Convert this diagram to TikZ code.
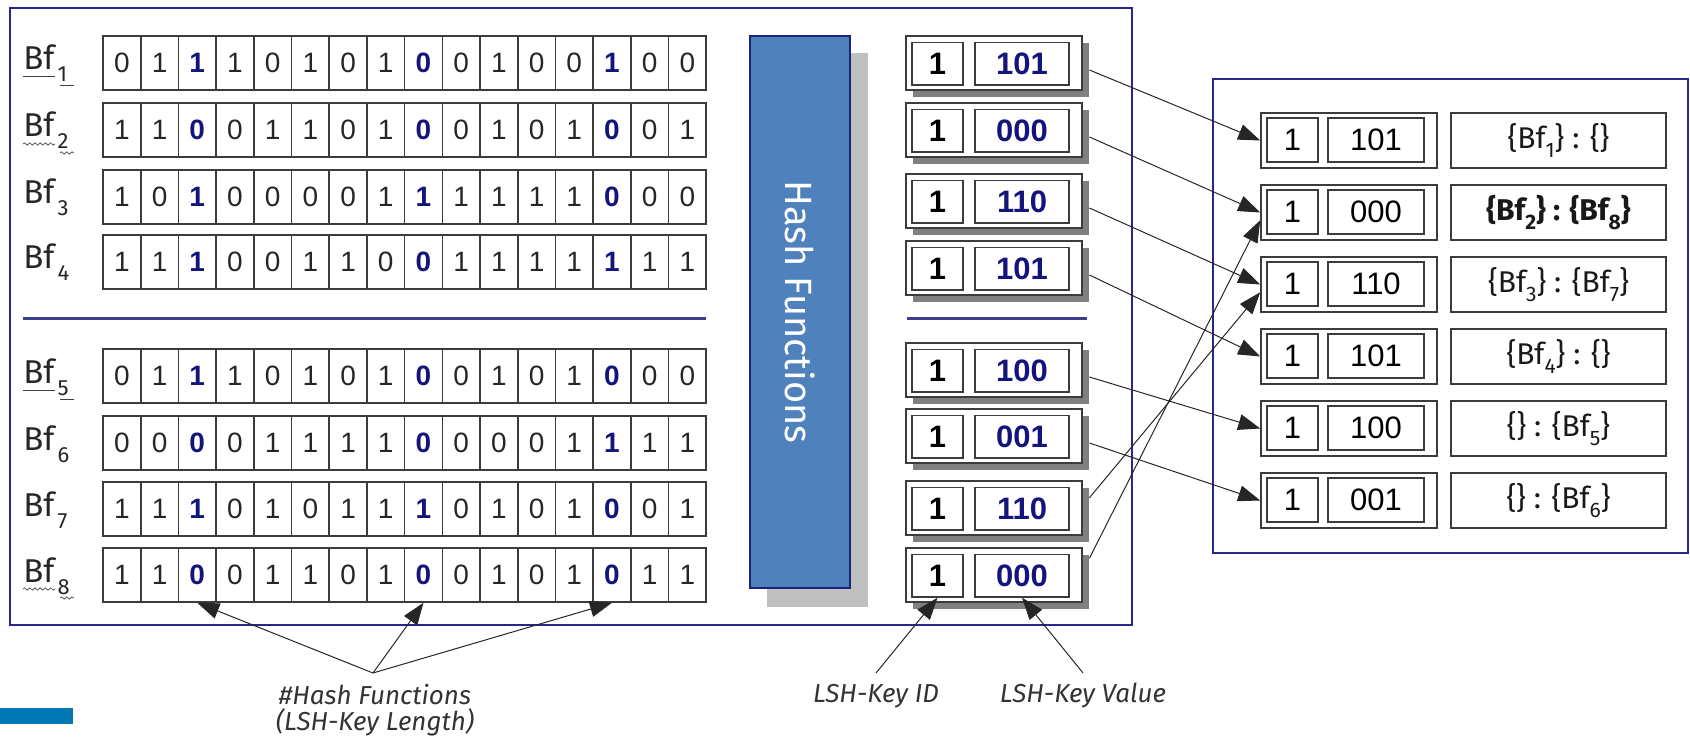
\documentclass[tikz,border=0pt]{standalone}
\usepackage{fontspec}
\setmainfont{Fira Sans}
\newfontfamily\digfont{Liberation Sans}
\usetikzlibrary{arrows.meta,fit,calc,decorations.pathmorphing}
\definecolor{navy}{RGB}{20,20,125}
\definecolor{panelc}{RGB}{40,40,140}
\definecolor{sepc}{RGB}{60,60,145}
\definecolor{hashblue}{RGB}{79,129,189}
\definecolor{hashedge}{RGB}{25,35,120}
\definecolor{lshadow}{RGB}{192,192,192}
\definecolor{dshadow}{RGB}{128,128,128}
\definecolor{gridc}{RGB}{60,60,60}
\definecolor{tealblue}{RGB}{0,119,181}
\newcommand\bsub[1]{\hspace{1.5pt}\raisebox{-6pt}{\fontsize{11pt}{11pt}\selectfont #1}}
\newcommand\ssub[1]{\raisebox{-4.8pt}{\fontsize{10.5pt}{10.5pt}\selectfont #1}}
\tikzset{
  cell/.style={draw=gridc, line width=0.8pt, minimum width=18.85pt, minimum height=27pt, inner sep=0pt,
    font=\digfont\fontsize{14pt}{15pt}\selectfont, text=black!85},
  bflab/.style={inner sep=0pt, font=\fontsize{16.5pt}{17pt}\selectfont, text=black!85},
  keybox/.style={draw=gridc, fill=white, line width=0.8pt, minimum width=88pt, minimum height=27pt, inner sep=0pt},
  keyshadow/.style={fill=dshadow, minimum width=88pt, minimum height=27pt, inner sep=0pt},
  idbox/.style={draw=gridc, line width=0.7pt, minimum width=25.5pt, minimum height=21.25pt, inner sep=0pt,
    font=\digfont\bfseries\fontsize{15.5pt}{16pt}\selectfont, text=black},
  valbox/.style={draw=gridc, line width=0.7pt, minimum width=47pt, minimum height=21.25pt, inner sep=0pt,
    font=\digfont\bfseries\fontsize{15.5pt}{16pt}\selectfont, text=navy},
  rkeybox/.style={draw=gridc, fill=white, line width=0.8pt, minimum width=88pt, minimum height=27.5pt, inner sep=0pt},
  ridbox/.style={draw=gridc, line width=0.7pt, minimum width=25.5pt, minimum height=22pt, inner sep=0pt,
    font=\digfont\fontsize{15.5pt}{16pt}\selectfont, text=black},
  rvalbox/.style={draw=gridc, line width=0.7pt, minimum width=48pt, minimum height=22pt, inner sep=0pt,
    font=\digfont\fontsize{15.5pt}{16pt}\selectfont, text=black},
  setbox/.style={draw=gridc, line width=0.8pt, minimum width=107.5pt, minimum height=27.5pt, inner sep=0pt,
    font=\fontsize{15pt}{16pt}\selectfont, text=black!90},
  panel/.style={draw=panelc, line width=0.8pt, inner sep=0pt},
  sepline/.style={draw=sepc, line width=1.5pt},
  arr/.style={-{Triangle[length=11pt,width=8pt]}, draw=black!85, line width=0.5pt},
  note/.style={font=\itshape\fontsize{13pt}{13pt}\selectfont, text=black!80, inner sep=0pt, align=center},
  uline/.style={draw=black!75, line width=0.5pt},
  wavy/.style={draw=black!65, line width=0.4pt, decorate, decoration={snake, amplitude=0.6pt, segment length=2.6pt}}
}
\begin{document}
\begin{tikzpicture}[x=0.5pt,y=-0.5pt]
\useasboundingbox (0,0) rectangle (1690,737);
% panels
\node[panel, fit={(10,8) (1132,625)}] (lpanel) {};
\node[panel, fit={(1213,79) (1688,553)}] (rpanel) {};
% separators
\draw[sepline] (23,319) -- (706,319);
\draw[sepline] (907,319) -- (1087,319);
% bloom filter rows
\foreach \r/\t/\bits in {
  1/36/{0,1,1,1,0,1,0,1,0,0,1,0,0,1,0,0},
  2/103/{1,1,0,0,1,1,0,1,0,0,1,0,1,0,0,1},
  3/170/{1,0,1,0,0,0,0,1,1,1,1,1,1,0,0,0},
  4/235/{1,1,1,0,0,1,1,0,0,1,1,1,1,1,1,1},
  5/349/{0,1,1,1,0,1,0,1,0,0,1,0,1,0,0,0},
  6/416/{0,0,0,0,1,1,1,1,0,0,0,0,1,1,1,1},
  7/482/{1,1,1,0,1,0,1,1,1,0,1,0,1,0,0,1},
  8/548/{1,1,0,0,1,1,0,1,0,0,1,0,1,0,1,1}} {
  \node[bflab, anchor=base west] (b\r) at (23,{\t+34}) {Bf\bsub{\r}};
  \foreach \b [count=\i] in \bits {
    \ifnum\i=3 \def\bitsty{\bfseries\color{navy}}\else
    \ifnum\i=9 \def\bitsty{\bfseries\color{navy}}\else
    \ifnum\i=14 \def\bitsty{\bfseries\color{navy}}\else
    \def\bitsty{}\fi\fi\fi
    \node[cell] (c\r-\i) at ({103+37.7*(\i-0.5)},{\t+27}) {\bitsty\b};
  }
}
% underlines of labels
\draw[uline] ($(b1.base west)+(0,7)$) -- ++(32,0);
\draw[uline] ($(b1.base west)+(37,16)$) -- ++(14,0);
\draw[uline] ($(b5.base west)+(0,7)$) -- ++(32,0);
\draw[uline] ($(b5.base west)+(37,16)$) -- ++(14,0);
\draw[wavy] ($(b2.base west)+(0,7)$) -- ++(32,0);
\draw[wavy] ($(b2.base west)+(37,16)$) -- ++(14,0);
\draw[wavy] ($(b8.base west)+(0,7)$) -- ++(32,0);
\draw[wavy] ($(b8.base west)+(37,16)$) -- ++(14,0);
% hash functions block
\node[fit={(767,53) (868,607)}, inner sep=0pt, fill=lshadow] (hashshadow) {};
\node[fit={(750,36) (850,588)}, inner sep=0pt, fill=hashblue, draw=hashedge, line width=0.8pt] (hash) {};
\node[rotate=-90, text=white, font=\fontsize{19pt}{20pt}\selectfont] (hashtxt) at (hash.center) {Hash Functions};
% LSH keys
\foreach \k/\t/\v in {1/36/101, 2/103/000, 3/174/110, 4/241/101, 5/343/100, 6/409/001, 7/481/110, 8/548/000} {
  \node[keyshadow] (ks\k) at (1001,{\t+34}) {};
  \node[keybox] (k\k) at (994,{\t+27}) {};
  \node[idbox] (kid\k) at (937.5,{\t+27.75}) {1};
  \node[valbox] (kv\k) at (1022,{\t+27.75}) {\v};
}
% result table
\foreach \r/\t/\v/\s in {
  1/113/101/{\{Bf\ssub{1}\} : \{\}},
  2/185/000/{\bfseries\{Bf\ssub{\bfseries 2}\} : \{Bf\ssub{\bfseries 8}\}},
  3/257/110/{\{Bf\ssub{3}\} : \{Bf\ssub{7}\}},
  4/329/101/{\{Bf\ssub{4}\} : \{\}},
  5/401/100/{\{\} : \{Bf\ssub{5}\}},
  6/473/001/{\{\} : \{Bf\ssub{6}\}}} {
  \node[rkeybox] (r\r) at (1349,{\t+27.5}) {};
  \node[ridbox] (rid\r) at (1292.5,{\t+27}) {1};
  \node[rvalbox] (rv\r) at (1376,{\t+27}) {\v};
  \node[setbox] (s\r) at (1558.5,{\t+27.5}) {\s};
}
% connectors
\draw[arr] (ks1.east) -- (r1.west);
\draw[arr] (ks2.east) -- (r2.west);
\draw[arr] (ks3.east) -- (r3.west);
\draw[arr] (ks4.east) -- (r4.west);
\draw[arr] (ks5.east) -- (r5.west);
\draw[arr] (ks6.east) -- (r6.west);
\draw[arr] (ks7.11) -- (r3.185);
\draw[arr] (ks8.15) -- (r2.185);
% bottom annotations
\coordinate (apex) at (373,673);
\coordinate (idfoot) at (876,673);
\coordinate (valfoot) at (1083,673);
\node[note] (hfnote) at (375,710) {\#Hash Functions\\(LSH-Key Length)};
\node[note] (idnote) at (876,696) {LSH-Key ID};
\node[note] (valnote) at (1083,696) {LSH-Key Value};
\draw[arr] (apex) -- (c8-3.south);
\draw[arr] (apex) -- (c8-9.south);
\draw[arr] (apex) -- (c8-14.south);
\draw[arr] (idfoot) -- (kid8.south);
\draw[arr] (valfoot) -- (kv8.south);
% corner mark
\fill[tealblue] (0,708) rectangle (73,724);
\end{tikzpicture}
\end{document}
